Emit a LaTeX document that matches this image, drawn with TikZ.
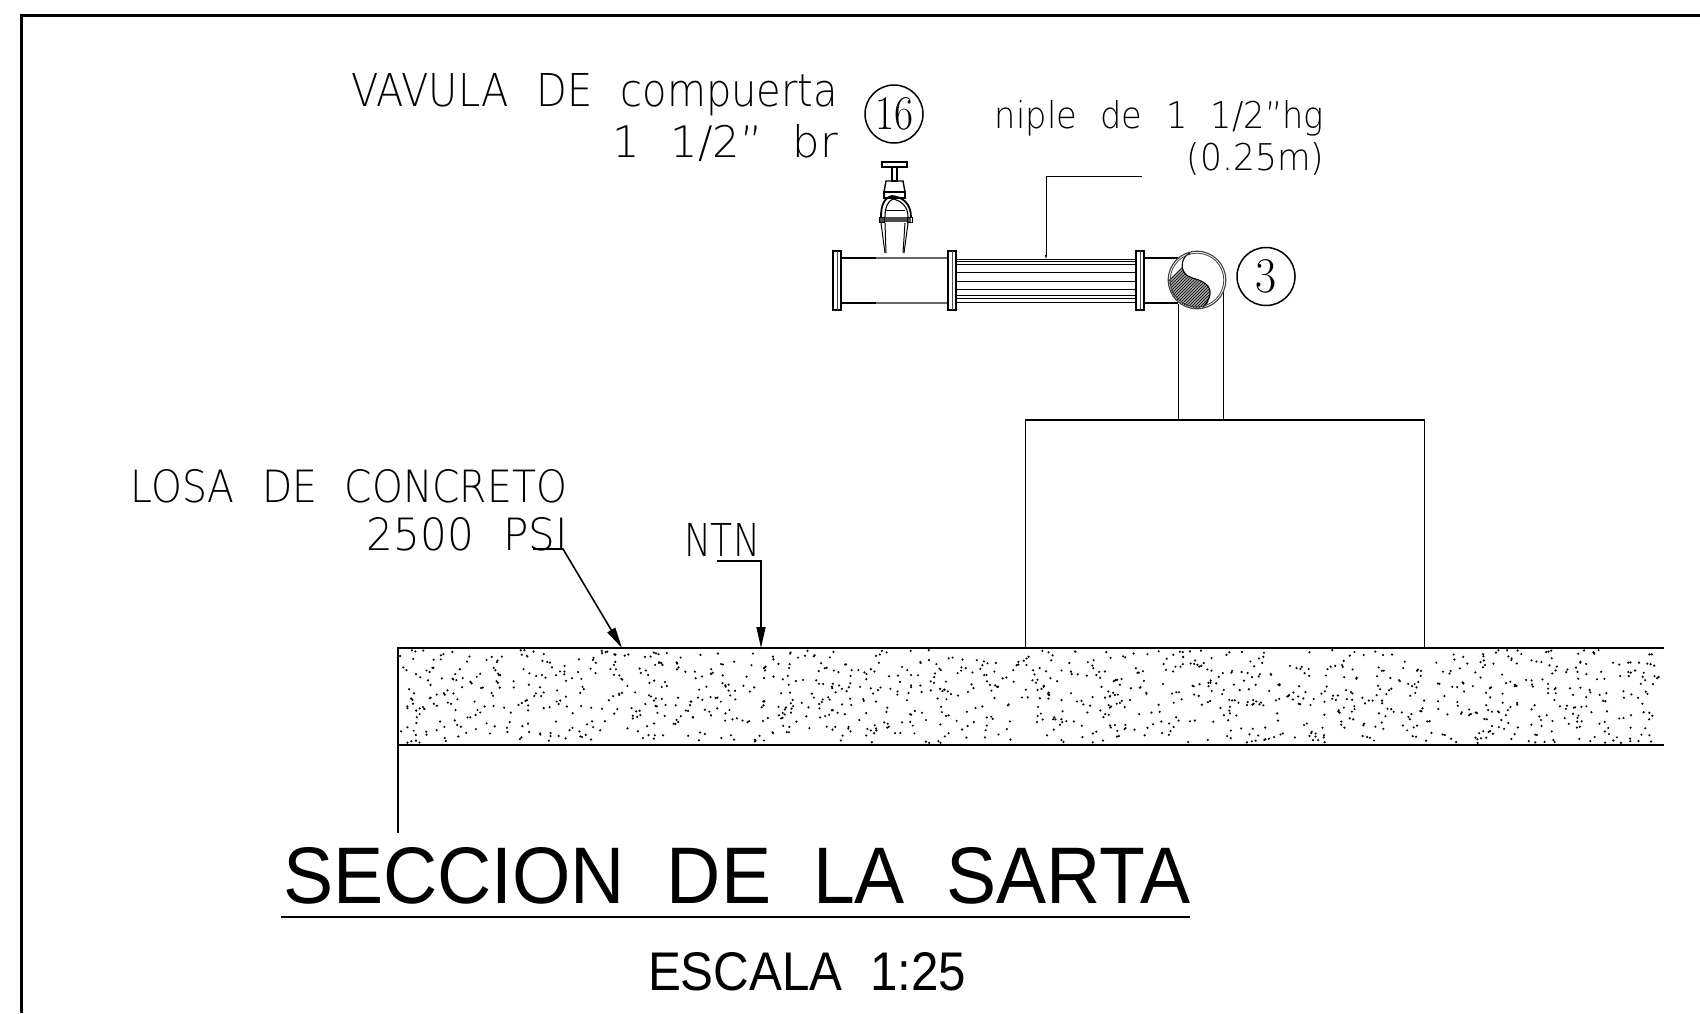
\documentclass[tikz,border=0pt]{standalone}
\usepackage{fontspec}
\usepackage{graphicx}
\newfontfamily\cadthin[WordSpace=2.2]{DejaVu Sans ExtraLight}
\newfontfamily\cadbold[WordSpace=2.0]{Liberation Sans}
\usetikzlibrary{arrows.meta}
\tikzset{
  x=1pt,y=-1pt,
  frameline/.style={line width=3pt,black},
  thinline/.style={line width=1.6pt,black},
  hairline/.style={line width=0.9pt,black},
  greyline/.style={line width=1.1pt,black!60},
  label/.style={inner sep=0pt,outer sep=0pt,text=black},
  tip/.style={-{Triangle[length=21pt,width=9pt]}},
  smalltip/.style={-{Triangle[length=4pt,width=2pt]}},
  numring/.style={circle,draw=black,line width=1.5pt,minimum size=58pt,inner sep=0pt},
  flange/.style={draw=black,line width=1.1pt,fill=white}
}
\newcommand{\fitcad}[3]{\resizebox{#1pt}{#2pt}{\cadthin #3}}
\newcommand{\fitbold}[3]{\resizebox{#1pt}{#2pt}{\cadbold #3}}
\begin{document}
\begin{tikzpicture}
\useasboundingbox (0,0) rectangle (1700,1013);
\fill[white] (0,0) rectangle (1700,1013);
% frame
\draw[frameline,line cap=butt] (21,1013) -- (21,15) -- (1700,15);
% slab
\pgfmathsetseed{11}
\fill[black] foreach \i in {1,...,1250} {
  [/utils/exec={\pgfmathsetmacro\dx{400+1262*rnd}\pgfmathsetmacro\dy{650+93*rnd}}]
  (\dx,\dy) circle[radius=1.2]
};
\coordinate (slabTL) at (398,648);
\coordinate (slabTR) at (1664,648);
\coordinate (slabBL) at (398,745);
\coordinate (slabBR) at (1664,745);
\coordinate (slabLeg) at (398,833);
\draw[thinline] (slabTR) -- (slabTL) -- (slabLeg);
\draw[thinline] (slabBL) -- (slabBR);
% pedestal
\draw[thinline] (1025.5,648) -- (1025.5,420) -- (1424.5,420) -- (1424.5,648);
% vertical pipe
\draw[hairline] (1178,304) -- (1178,420);
\draw[hairline] (1223,285) -- (1223,420);
% pipe left
\draw[greyline] (841,258) -- (948,258);
\draw[greyline] (841,303) -- (948,303);
\draw[thinline] (841,258) -- (876,258);
\draw[thinline] (841,303) -- (876,303);
% nipple
\foreach \yy in {259,261,264,272,281,289,295,298,302}
  \draw[line width=0.95pt] (956,\yy) -- (1136,\yy);
% pipe to elbow
\draw[thinline] (1143,258) -- (1185,258);
\draw[thinline] (1143,303) -- (1178,303);
% flanges
\foreach \fx in {833,948,1136} {
  \draw[flange] (\fx,251) rectangle ++(8,59);
  \draw[line width=0.8pt,black!70] (\fx+4,251) -- (\fx+4,310);
}
% elbow circle
\fill[white] (1197,280) circle[radius=29];
\begin{scope}
  \clip (1197,280) circle[radius=28];
  \clip (1190,250) .. controls (1183,256) and (1180,265) .. (1184,272)
        .. controls (1188,279) and (1197,278) .. (1203,282)
        .. controls (1212,287) and (1213,296) .. (1203,312)
        -- (1150,320) -- (1150,240) -- (1190,240) -- cycle;
  \foreach \h in {-20,-17,...,120}
    \draw[line width=1.3pt,black!85] (1150+\h,320) -- (1150+\h+80,240);
\end{scope}
\draw[line width=1.1pt,black] (1190,253) .. controls (1183,256) and (1180,265) .. (1184,272)
        .. controls (1188,279) and (1197,278) .. (1203,282)
        .. controls (1212,287) and (1213,296) .. (1203,307);
\draw[line width=1.1pt,black!75] (1197,280) circle[radius=28.8];
\draw[line width=0.8pt,black!75] (1197,280) circle[radius=26.8];
% valve
\draw[line width=1.1pt] (882,162) rectangle (907,167);
\draw[line width=1.1pt] (892,167) rectangle (897,181);
\draw[line width=1.4pt] (886,181) -- (903,181) -- (905,192) -- (884,192) -- cycle;
\draw[line width=1.4pt] (884,192) rectangle (905,198);
\draw[line width=1.8pt] (881,217) .. controls (881,205) and (884,198) .. (892,196) .. controls (904,197) and (911,205) .. (911,217);
\draw[line width=1.1pt] (885,217) .. controls (885,207) and (888,201) .. (893,199) .. controls (902,201) and (908,207) .. (908,217);
\draw[line width=0.9pt] (886,210) -- (905,210);
\fill[black!70] (880,217) rectangle (911,222);
\draw[line width=1pt] (879,217) rectangle (884,222);
\draw[line width=1pt] (907,217) rectangle (912,222);
\draw[line width=1pt] (881,223) -- (885,253);
\draw[line width=1pt] (885,223) -- (886,253);
\draw[line width=1pt] (908,223) -- (904,253);
\draw[line width=1pt] (905,223) -- (903,253);
% leader niple
\coordinate (nipStart) at (1142,176);
\coordinate (nipBend) at (1046,176);
\coordinate (nipEnd) at (1046,259);
\draw[hairline,smalltip] (nipStart) -- (nipBend) -- (nipEnd);
% leader losa
\coordinate (losaStart) at (533,549);
\coordinate (losaBend) at (563,549);
\coordinate (losaEnd) at (622,648);
\draw[thinline,tip] (losaStart) -- (losaBend) -- (losaEnd);
% leader ntn
\coordinate (ntnStart) at (717,561);
\coordinate (ntnBend) at (761,561);
\coordinate (ntnEnd) at (761,648);
\draw[thinline,tip] (ntnStart) -- (ntnBend) -- (ntnEnd);
% labels
\node[numring,font=\fontsize{31}{31}\selectfont] (n16) at (894,114) {\resizebox{38pt}{32pt}{16}};
\node[numring,font=\fontsize{31}{31}\selectfont] (n3) at (1266,276.5) {\resizebox{21pt}{33pt}{3}};
\node[label,anchor=base east] (t1) at (838,106) {\fitcad{486}{33}{VAVULA DE compuerta}};
\node[label,anchor=base east] (t2) at (838,157) {\fitcad{225}{33}{1 1/2” br}};
\node[label,anchor=base east] (t3) at (1324,128) {\fitcad{329}{28}{niple de 1 1/2”hg}};
\node[label,anchor=base east] (t4) at (1324,170) {\fitcad{137}{28}{(0.25m)}};
\node[label,anchor=base east] (t5) at (567,502) {\fitcad{436}{33}{LOSA DE CONCRETO}};
\node[label,anchor=base east] (t6) at (568,550) {\fitcad{201}{33}{2500 PSI}};
\node[label,anchor=base west] (t7) at (684,556) {\fitcad{76}{33}{NTN}};
\node[label,anchor=base west] (title) at (283,903) {\fitbold{907}{56}{SECCION DE LA SARTA}};
\coordinate (ulA) at (281,917);
\coordinate (ulB) at (1190,917);
\draw[thinline] (ulA) -- (ulB);
\node[label,anchor=base west] (scale) at (648,990) {\fitbold{318}{38}{ESCALA 1:25}};
\end{tikzpicture}
\end{document}
